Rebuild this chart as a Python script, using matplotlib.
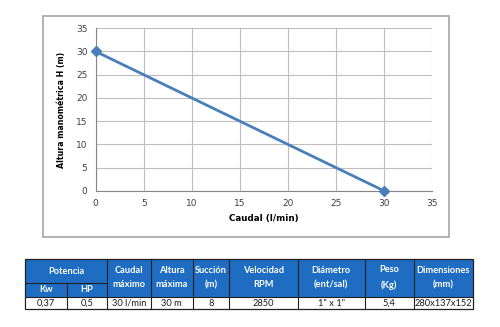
import matplotlib.pyplot as plt
from matplotlib.patches import Rectangle

# curva de la bomba
caudal = [0, 30]
altura = [30, 0]
x_ticks = [0, 5, 10, 15, 20, 25, 30, 35]
y_ticks = [0, 5, 10, 15, 20, 25, 30, 35]

# tabla de especificaciones
cabeceras = ["Caudal\nmáximo", "Altura\nmáxima", "Succión\n(m)", "Velocidad\nRPM",
             "Diámetro\n(ent/sal)", "Peso\n(Kg)", "Dimensiones\n(mm)"]
sub_potencia = ["Kw", "HP"]
valores = ["0,37", "0,5", "30 l/min", "30 m", "8", "2850", "1\" x 1\"", "5,4", "280x137x152"]

W, H = 500, 327
fig = plt.figure(figsize=(W / 100, H / 100), dpi=100)

# marco del grafico
frame = fig.add_axes([0, 0, 1, 1])
frame.set_xlim(0, W)
frame.set_ylim(H, 0)
frame.axis('off')
frame.add_patch(Rectangle((42.5, 16), 406.5, 220.5, fill=False, edgecolor='#a6a6a6', linewidth=1.2))

ax = fig.add_axes([95.7 / W, 1 - 190.7 / H, 336 / W, 162.4 / H])
ax.plot(caudal, altura, color='#4a7ebb', linewidth=2, marker='D', markersize=5,
        markerfacecolor='#4a7ebb', markeredgecolor='#4a7ebb', clip_on=False, zorder=3)
ax.set_xlim(0, 35)
ax.set_ylim(0, 35)
ax.set_xticks(x_ticks)
ax.set_yticks(y_ticks)
ax.grid(True, color='#bfbfbf', linewidth=0.8)
for s in ['top', 'right']:
    ax.spines[s].set_visible(False)
for s in ['left', 'bottom']:
    ax.spines[s].set_color('#868686')
    ax.spines[s].set_linewidth(0.8)
ax.tick_params(axis='both', length=0, labelsize=6.5, colors='#404040', pad=6)
ax.set_xlabel("Caudal (l/min)", fontsize=6.3, fontweight='bold', labelpad=4)
ax.set_ylabel("Altura manométrica H (m)", fontsize=5.7, fontweight='bold', labelpad=7)

# tabla
azul = '#1f6dc2'
cols = [25, 66.7, 107.3, 150.7, 192.7, 229.3, 297.7, 364.7, 413.7, 472.7]
y0, y1, y2, y3 = 259.3, 283.3, 296.7, 309.3
tfont = ['Lato', 'DejaVu Sans']

frame.add_patch(Rectangle((cols[0], y0), cols[-1] - cols[0], y2 - y0,
                          facecolor=azul, edgecolor='none'))
frame.add_patch(Rectangle((cols[0], y0), cols[-1] - cols[0], y3 - y0,
                          fill=False, edgecolor='#222222', linewidth=0.9))
frame.plot([cols[0], cols[2]], [y1, y1], color='#222222', linewidth=0.8)
frame.plot([cols[0], cols[-1]], [y2, y2], color='#222222', linewidth=0.8)
frame.plot([cols[1], cols[1]], [y1, y3], color='#222222', linewidth=0.8)
for c in cols[2:-1]:
    frame.plot([c, c], [y0, y3], color='#222222', linewidth=0.8)

frame.text((cols[0] + cols[2]) / 2, (y0 + y1) / 2, "Potencia", color='white',
           fontsize=6.7, fontweight='bold', ha='center', va='center', family=tfont)
for i, t in enumerate(sub_potencia):
    frame.text((cols[i] + cols[i + 1]) / 2, (y1 + y2) / 2, t, color='white',
               fontsize=6.7, fontweight='bold', ha='center', va='center', family=tfont)
for i, t in enumerate(cabeceras):
    frame.text((cols[i + 2] + cols[i + 3]) / 2, (y0 + y2) / 2 - 0.5, t, color='white',
               fontsize=6.7, fontweight='bold', ha='center', va='center',
               linespacing=1.75, family=tfont)
for i, t in enumerate(valores):
    frame.text((cols[i] + cols[i + 1]) / 2, (y2 + y3) / 2, t, color='#1a1a1a',
               fontsize=6.7, ha='center', va='center', family=tfont)

fig.savefig('out.png', dpi=100)
